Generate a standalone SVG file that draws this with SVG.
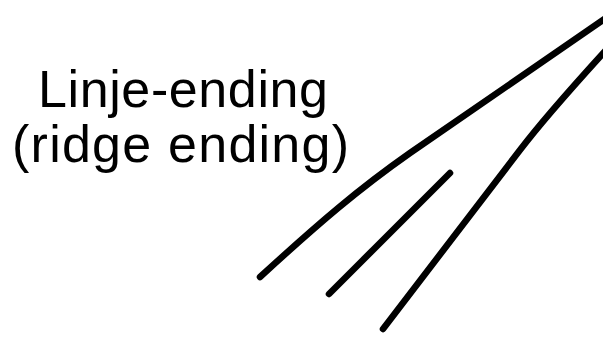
<svg xmlns="http://www.w3.org/2000/svg" width="603" height="338" viewBox="0 0 603 338">
<style>
.lbl{font-family:"Liberation Sans",Arial,sans-serif;font-size:52px;fill:#000}
.ridge{fill:none;stroke:#000;stroke-width:6.5;stroke-linecap:round;stroke-linejoin:round}
</style>
<rect width="603" height="338" fill="#fff"/>
<g id="label">
<text class="lbl" x="38" y="107" textLength="290" lengthAdjust="spacing">Linje-ending</text>
<text class="lbl" x="12" y="162" textLength="337" lengthAdjust="spacing">(ridge ending)</text>
</g>
<g id="ridges">
<path class="ridge" d="M260,277 C320,222 360,188 410,153 L606,18"/>
<path class="ridge" d="M329,294 L450,173"/>
<path class="ridge" d="M383,329 L520,150 Q545,117 606,50"/>
</g>
</svg>
